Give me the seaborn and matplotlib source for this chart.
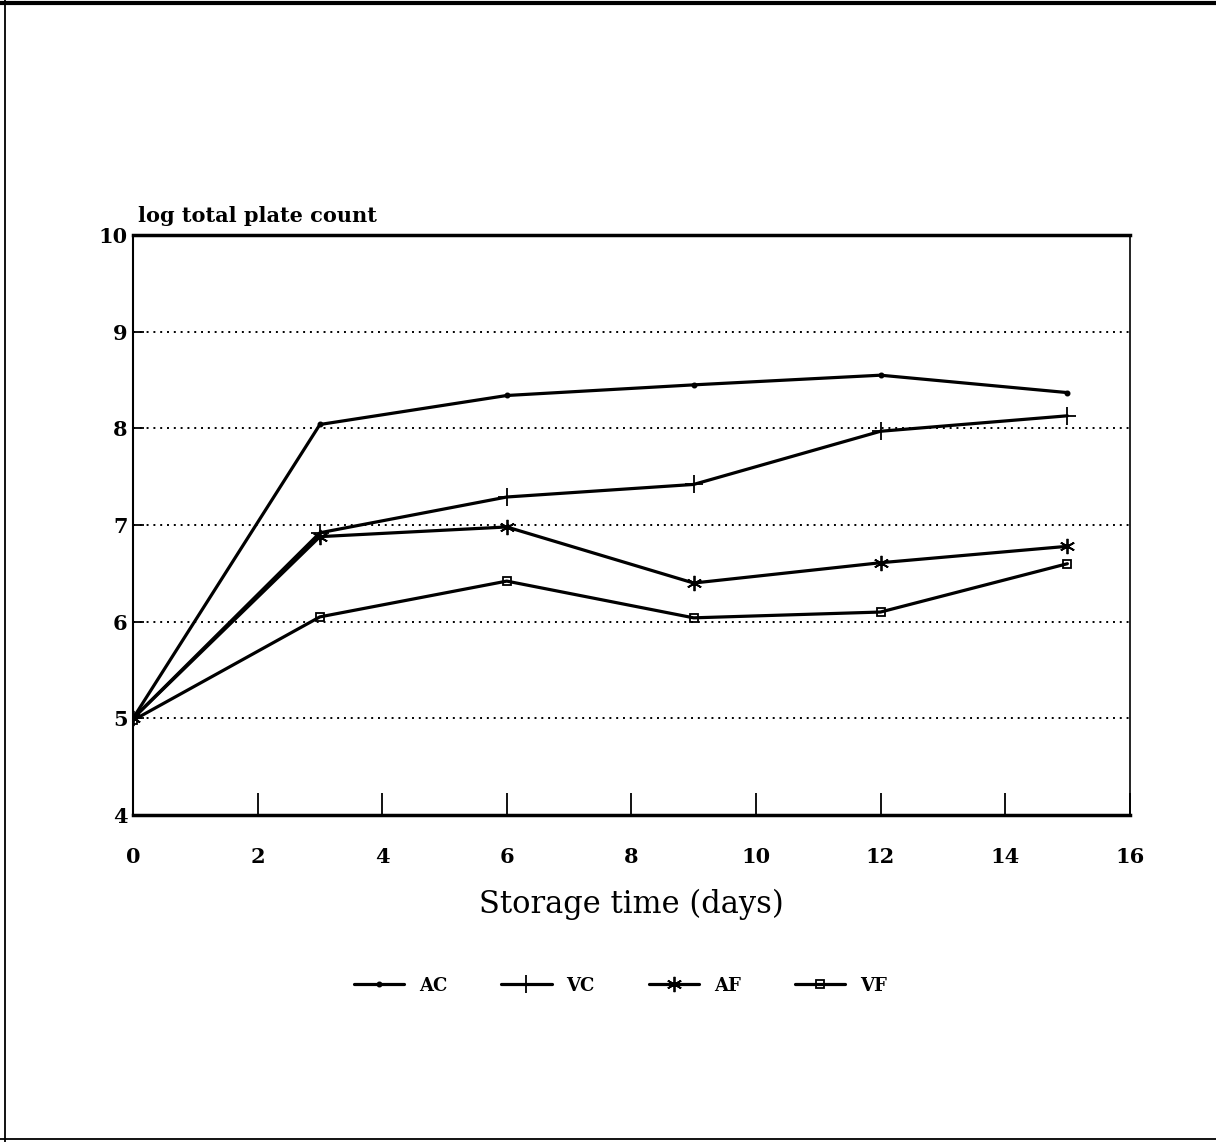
import matplotlib
matplotlib.use("Agg")
import matplotlib.pyplot as plt
import seaborn as sns
import pandas as pd
from matplotlib.lines import Line2D

# Storage days and log total plate counts for each treatment
days = [0, 3, 6, 9, 12, 15]
ac = [5.00, 8.04, 8.34, 8.45, 8.55, 8.37]
vc = [5.00, 6.92, 7.29, 7.42, 7.97, 8.13]
af = [5.00, 6.88, 6.98, 6.40, 6.61, 6.78]
vf = [4.98, 6.05, 6.42, 6.04, 6.10, 6.60]
series_names = ["AC", "VC", "AF", "VF"]
x_ticks = [0, 2, 4, 6, 8, 10, 12, 14, 16]
y_ticks = [4, 5, 6, 7, 8, 9, 10]

df = pd.DataFrame({
    "day": days * 4,
    "count": ac + vc + af + vf,
    "series": [n for n in series_names for _ in days],
})

sns.set_theme(style="white")
plt.rcParams["font.family"] = ["DejaVu Serif"]
plt.rcParams["text.color"] = "black"

fig = plt.figure(figsize=(12.16, 11.42), dpi=100)
ax = fig.add_axes([0.1094, 0.2863, 0.8196, 0.5079])

markers = {"AC": ".", "VC": "+", "AF": (6, 2, 0), "VF": "s"}
sizes = {"AC": 6, "VC": 13, "AF": 11, "VF": 6}
for n in series_names:
    sub = df[df["series"] == n]
    sns.lineplot(data=sub, x="day", y="count", color="black", linewidth=2.3,
                 marker=markers[n], markersize=sizes[n], markeredgewidth=1.3,
                 markerfacecolor="none" if n == "VF" else "black",
                 markeredgecolor="black", ax=ax, label=n, legend=False)

ax.set_xlim(0, 16)
ax.set_ylim(4, 10)
ax.set_xticks(x_ticks)
ax.set_yticks(y_ticks)
ax.set_xticklabels([str(t) for t in x_ticks], fontsize=15, fontweight="bold")
ax.set_yticklabels([str(t) for t in y_ticks], fontsize=15, fontweight="bold")
ax.tick_params(axis="both", direction="in", width=1.3, colors="black",
               labelcolor="black", bottom=True, left=True)
ax.tick_params(axis="x", length=16, pad=23)
ax.tick_params(axis="y", length=8, pad=4)
for y in [5, 6, 7, 8, 9]:
    ax.axhline(y, color="black", linestyle=(0, (1, 2.5)), linewidth=1.4, zorder=0)

ax.set_xlabel("Storage time (days)", fontsize=22, labelpad=16, color="black")
ax.set_ylabel("")
ax.text(0.005, 1.015, "log total plate count", transform=ax.transAxes,
        fontsize=15, fontweight="bold", ha="left", va="bottom", color="black")

for side in ["top", "bottom"]:
    ax.spines[side].set_linewidth(2.5)
    ax.spines[side].set_color("black")
ax.spines["right"].set_linewidth(1.2)
ax.spines["right"].set_color("black")
ax.spines["left"].set_linewidth(1.5)
ax.spines["left"].set_color("black")
ax.spines["left"].set_linestyle((0, (2, 1)))

# Legend row below the axis
handles, labels = ax.get_legend_handles_labels()
fig.legend(handles, labels, loc="center", bbox_to_anchor=(0.51, 0.137),
           ncol=4, frameon=False, handlelength=2.8, columnspacing=3.0,
           prop={"family": "DejaVu Serif", "weight": "bold", "size": 13})

# Page edges: top, left and bottom
for xs, ys, lw in [([0, 1], [0.997, 0.997], 3.0),
                   ([0.004, 0.004], [0, 1], 1.3),
                   ([0, 1], [0.003, 0.003], 1.3)]:
    fig.add_artist(Line2D(xs, ys, transform=fig.transFigure, color="black",
                          linewidth=lw))

fig.savefig("out.png", dpi=100, facecolor="white")
